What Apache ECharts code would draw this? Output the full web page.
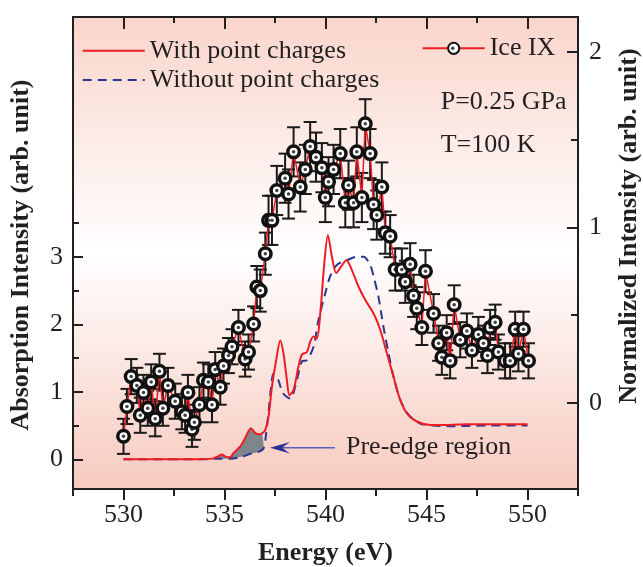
<!DOCTYPE html>
<html><head><meta charset="utf-8">
<script src="https://cdn.jsdelivr.net/npm/echarts@6/dist/echarts.min.js"></script>
<style>html,body{margin:0;padding:0;background:#fff}#c{width:643px;height:567px}</style>
</head><body><div id="c"></div>
<script>
// ---- tick definitions ----
const xTicksMajor = [530, 535, 540, 545, 550];
const xTicksMinor = [527.5, 532.5, 537.5, 542.5, 547.5, 552.5];
const leftTicksMajor = [0, 1, 2, 3];
const leftTicksMinor = [0.5, 1.5, 2.5, 3.5];
const rightTicksMajor = [0, 1, 2];
const rightTicksMinor = [0.5, 1.5];

// ---- calculated spectrum, with point charges (left axis) ----
const redE = [530, 533.5, 534.4, 534.65, 534.87, 535.05, 535.28, 535.44, 535.78, 536.0, 536.11, 536.31, 536.52, 536.7, 536.85, 537.01, 537.18, 537.35, 537.56, 537.76, 537.92, 538.09, 538.22, 538.42, 538.66, 538.83, 539.08, 539.24, 539.41, 539.57, 539.74, 539.94, 540.12, 540.32, 540.53, 540.76, 541.03, 541.31, 541.63, 541.97, 542.38, 542.71, 543.04, 543.37, 543.7, 544.03, 544.52, 545.18, 546, 547, 548, 549, 550];
const redV = [0, 0, 0.01, 0.04, 0.07, 0.04, 0.03, 0.09, 0.19, 0.30, 0.37, 0.46, 0.39, 0.37, 0.385, 0.43, 0.63, 1.08, 1.47, 1.76, 1.57, 1.17, 0.95, 1.03, 1.37, 1.55, 1.59, 1.74, 1.82, 1.79, 2.16, 2.90, 3.32, 3.0, 2.76, 2.85, 2.95, 2.80, 2.56, 2.36, 2.16, 1.92, 1.57, 1.22, 0.88, 0.68, 0.56, 0.51, 0.51, 0.52, 0.52, 0.52, 0.52];

// ---- calculated spectrum, without point charges (left axis) ----
const blueE = [530, 534.0, 534.6, 535.3, 535.9, 536.27, 536.68, 536.93, 537.05, 537.18, 537.3, 537.43, 537.67, 537.89, 538.25, 538.58, 538.83, 539.08, 539.41, 539.65, 539.99, 540.23, 540.56, 541.06, 541.55, 541.88, 542.21, 542.38, 542.62, 542.87, 543.12, 543.37, 543.7, 544.11, 544.69, 545.35, 546, 548, 550];
const blueV = [0, 0, 0.01, 0.01, 0.04, 0.08, 0.11, 0.16, 0.35, 0.70, 1.05, 1.27, 1.17, 0.98, 0.90, 1.17, 1.45, 1.47, 1.67, 2.06, 2.46, 2.71, 2.88, 2.95, 3.00, 3.00, 2.88, 2.71, 2.41, 1.96, 1.57, 1.22, 0.88, 0.66, 0.53, 0.50, 0.49, 0.50, 0.50];

// pre-edge shaded energy window
const preEdge = [534.45, 536.95];

// ---- experimental Ice IX (right axis) ----
const iceE = [530.0, 530.17, 530.38, 530.66, 530.83, 530.99, 531.2, 531.37, 531.57, 531.78, 531.95, 532.2, 532.56, 532.89, 533.05, 533.19, 533.39, 533.51, 533.76, 533.96, 534.2, 534.38, 534.54, 534.79, 534.95, 535.2, 535.37, 535.69, 536.02, 536.19, 536.44, 536.6, 536.77, 537.02, 537.18, 537.35, 537.59, 538.0, 538.17, 538.42, 538.75, 539.0, 539.24, 539.53, 539.82, 539.99, 540.15, 540.4, 540.73, 540.98, 541.14, 541.39, 541.55, 541.8, 541.97, 542.21, 542.38, 542.54, 542.79, 542.96, 543.2, 543.45, 543.78, 543.95, 544.19, 544.36, 544.52, 544.77, 544.95, 545.35, 545.6, 545.76, 546.0, 546.17, 546.37, 546.67, 547.0, 547.25, 547.57, 547.82, 548.02, 548.15, 548.4, 548.56, 548.89, 549.14, 549.39, 549.55, 549.8, 550.05];
const iceV = [-0.19, -0.02, 0.15, 0.10, -0.07, 0.06, -0.03, 0.12, -0.09, 0.18, -0.03, 0.10, 0.01, -0.05, -0.07, 0.06, -0.15, -0.11, -0.01, 0.13, 0.12, -0.01, 0.19, 0.09, 0.21, 0.27, 0.32, 0.43, 0.25, 0.29, 0.45, 0.66, 0.64, 0.85, 1.04, 1.04, 1.21, 1.28, 1.19, 1.43, 1.23, 1.33, 1.46, 1.40, 1.34, 1.17, 1.26, 1.33, 1.42, 1.14, 1.24, 1.14, 1.43, 1.17, 1.59, 1.42, 1.13, 1.07, 1.23, 0.97, 0.95, 0.76, 0.76, 0.69, 0.79, 0.61, 0.54, 0.43, 0.75, 0.51, 0.34, 0.26, 0.40, 0.24, 0.56, 0.36, 0.41, 0.30, 0.39, 0.34, 0.27, 0.43, 0.46, 0.29, 0.24, 0.24, 0.42, 0.28, 0.42, 0.24];
const iceErr = [0.10, 0.10, 0.10, 0.10, 0.10, 0.10, 0.10, 0.10, 0.10, 0.10, 0.10, 0.10, 0.10, 0.10, 0.10, 0.10, 0.10, 0.10, 0.10, 0.10, 0.10, 0.10, 0.10, 0.10, 0.10, 0.10, 0.10, 0.10, 0.10, 0.10, 0.10, 0.12, 0.12, 0.12, 0.14, 0.14, 0.14, 0.14, 0.14, 0.14, 0.14, 0.14, 0.14, 0.14, 0.14, 0.14, 0.14, 0.14, 0.14, 0.14, 0.14, 0.14, 0.14, 0.14, 0.14, 0.14, 0.14, 0.14, 0.14, 0.12, 0.12, 0.12, 0.12, 0.12, 0.12, 0.12, 0.12, 0.10, 0.12, 0.11, 0.10, 0.10, 0.10, 0.10, 0.11, 0.10, 0.10, 0.10, 0.10, 0.10, 0.10, 0.10, 0.10, 0.10, 0.10, 0.10, 0.10, 0.10, 0.10, 0.10];

const FONT = 'Liberation Serif';
const INK = '#231f20';
const txt = {fontFamily: FONT, fontSize: 26, color: INK};

const pair = (xs, ys) => xs.map((x, i) => [x, ys[i]]);

function xAxisDef(pos, ticks, len, inside, labels) {
  return {
    type: 'value', position: pos, min: 527.5, max: 552.5, interval: 2.5,
    axisLine: {show: labels !== null || pos === 'top', onZero: false, lineStyle: {color: INK, width: 2}},
    axisTick: {show: true, inside: inside, length: len, customValues: ticks, lineStyle: {color: INK, width: 2}},
    axisLabel: labels ? Object.assign({show: true, customValues: labels, margin: 13}, txt) : {show: false},
    splitLine: {show: false}
  };
}
function yAxisDef(pos, min, max, ticks, len, labels, margin, line) {
  return {
    type: 'value', position: pos, min: min, max: max,
    axisLine: {show: line, onZero: false, lineStyle: {color: INK, width: 2}},
    axisTick: {show: true, inside: true, length: len, customValues: ticks, lineStyle: {color: INK, width: 2}},
    axisLabel: labels ? Object.assign({show: true, customValues: labels, margin: margin}, txt) : {show: false},
    splitLine: {show: false}
  };
}

const chart = echarts.init(document.getElementById('c'), null, {renderer: 'canvas'});
chart.setOption({
  animation: false,
  grid: {
    left: 73, right: 65, top: 17, bottom: 78, show: true, borderWidth: 0,
    backgroundColor: {type: 'linear', x: 0, y: 0, x2: 0, y2: 1, colorStops: [
      {offset: 0, color: '#f9d5cb'}, {offset: 0.5, color: '#ffffff'}, {offset: 1, color: '#f7cabe'}]}
  },
  xAxis: [
    xAxisDef('bottom', xTicksMajor, 11, false, xTicksMajor),
    xAxisDef('bottom', xTicksMinor, 7, false, null),
    xAxisDef('top', xTicksMajor, 12, true, null),
    xAxisDef('top', xTicksMinor, 6, true, null)
  ],
  yAxis: [
    yAxisDef('left', -0.44, 6.553, leftTicksMajor, 10, leftTicksMajor, 10, true),
    yAxisDef('left', -0.44, 6.553, leftTicksMinor, 6, null, 0, false),
    yAxisDef('right', -0.49, 2.198, rightTicksMajor, 11, rightTicksMajor, 11, true),
    yAxisDef('right', -0.49, 2.198, rightTicksMinor, 7, null, 0, false)
  ],
  legend: [
    {
      orient: 'vertical', left: 81.7, top: 37.7, padding: 0, itemGap: 3.3,
      itemWidth: 62, itemHeight: 14, selectedMode: false,
      textStyle: Object.assign({lineHeight: 26}, txt),
      data: [
        {name: 'With point charges', itemStyle: {color: 'rgba(0,0,0,0)', borderWidth: 0, opacity: 0}},
        {name: 'Without point charges', itemStyle: {color: 'rgba(0,0,0,0)', borderWidth: 0, opacity: 0}}
      ]
    },
    {
      orient: 'vertical', left: 421.7, top: 35.3, padding: 0,
      itemWidth: 62, itemHeight: 14, selectedMode: false,
      textStyle: Object.assign({lineHeight: 26}, txt),
      data: ['Ice IX']
    },
    {
      orient: 'vertical', left: 450.95, top: 35.3, padding: 0,
      itemWidth: 3.5, itemHeight: 3.5, selectedMode: false,
      textStyle: Object.assign({lineHeight: 26}, txt),
      formatter: () => ' ',
      data: ['iceDot']
    }
  ],
  series: [
    {
      name: 'preEdgeFill', type: 'custom', xAxisIndex: 0, yAxisIndex: 0, z: 1,
      data: [[preEdge[0], 0]], silent: true,
      renderItem: (params, api) => {
        const top = pair(redE, redV).filter(p => p[0] >= preEdge[0] && p[0] <= preEdge[1]);
        const bot = pair(blueE, blueV).filter(p => p[0] >= preEdge[0] && p[0] <= preEdge[1]).reverse();
        const pts = top.concat(bot).map(p => api.coord(p));
        return {type: 'polygon', shape: {points: pts, smooth: 0.2}, style: {fill: '#7e868b'}};
      }
    },
    {
      name: 'Without point charges', type: 'line', xAxisIndex: 0, yAxisIndex: 0, z: 2,
      data: pair(blueE, blueV), symbol: 'none', smooth: 0.3,
      lineStyle: {color: '#2a3592', width: 2, type: [9, 6]}, itemStyle: {color: '#2a3592'}
    },
    {
      name: 'With point charges', type: 'line', xAxisIndex: 0, yAxisIndex: 0, z: 2,
      data: pair(redE, redV), symbol: 'none', smooth: 0.3,
      lineStyle: {color: '#ee1d25', width: 2}, itemStyle: {color: '#ee1d25'}
    },
    {
      name: 'iceErr', type: 'custom', xAxisIndex: 0, yAxisIndex: 2, z: 3, silent: true,
      data: iceE.map((e, i) => [e, iceV[i], iceErr[i]]),
      encode: {x: 0, y: 1},
      renderItem: (params, api) => {
        const e = api.value(0), v = api.value(1), d = api.value(2);
        const hi = api.coord([e, v + d]), lo = api.coord([e, v - d]);
        const w = 6.5, st = {stroke: '#1a1a1a', lineWidth: 2};
        return {type: 'group', children: [
          {type: 'line', shape: {x1: hi[0], y1: hi[1], x2: lo[0], y2: lo[1]}, style: st},
          {type: 'line', shape: {x1: hi[0] - w, y1: hi[1], x2: hi[0] + w, y2: hi[1]}, style: st},
          {type: 'line', shape: {x1: lo[0] - w, y1: lo[1], x2: lo[0] + w, y2: lo[1]}, style: st}
        ]};
      }
    },
    {
      name: 'Ice IX', type: 'line', xAxisIndex: 0, yAxisIndex: 2, z: 4,
      data: pair(iceE, iceV), showAllSymbol: true,
      symbol: 'circle', symbolSize: 11.5,
      lineStyle: {color: '#ee1d25', width: 1.5},
      itemStyle: {color: '#ffffff', borderColor: '#111111', borderWidth: 3.5}
    },
    {
      name: 'iceDot', type: 'scatter', xAxisIndex: 0, yAxisIndex: 2, z: 5, silent: true,
      data: pair(iceE, iceV), symbol: 'circle', symbolSize: 3.5,
      itemStyle: {color: '#111111'}
    }
  ],
  graphic: [
    {type: 'text', x: 21, y: 255, rotation: Math.PI / 2,
     style: {text: 'Absorption Intensity (arb. unit)', font: 'bold 26px "Liberation Serif"', fill: INK, align: 'center', verticalAlign: 'middle', textAlign: 'center', textVerticalAlign: 'middle'}},
    {type: 'text', x: 629, y: 226, rotation: Math.PI / 2,
     style: {text: 'Normalized Intensity (arb. unit)', font: 'bold 26px "Liberation Serif"', fill: INK, align: 'center', verticalAlign: 'middle', textAlign: 'center', textVerticalAlign: 'middle'}},
    {type: 'text', x: 325.5, y: 553,
     style: {text: 'Energy (eV)', font: 'bold 26px "Liberation Serif"', fill: INK, align: 'center', verticalAlign: 'middle', textAlign: 'center', textVerticalAlign: 'middle'}},
    {type: 'text', x: 440.7, y: 101.7,
     style: {text: 'P=0.25 GPa', font: '26px "Liberation Serif"', fill: INK, align: 'left', verticalAlign: 'middle', textAlign: 'left', textVerticalAlign: 'middle'}},
    {type: 'text', x: 440.7, y: 145,
     style: {text: 'T=100 K', font: '26px "Liberation Serif"', fill: INK, align: 'left', verticalAlign: 'middle', textAlign: 'left', textVerticalAlign: 'middle'}},
    {type: 'text', x: 346, y: 446.7,
     style: {text: 'Pre-edge region', font: '26px "Liberation Serif"', fill: INK, align: 'left', verticalAlign: 'middle', textAlign: 'left', textVerticalAlign: 'middle'}},
    {type: 'line', shape: {x1: 281, y1: 447.7, x2: 335, y2: 447.7}, style: {stroke: '#5a5fbf', lineWidth: 1.6}},
    {type: 'polygon', shape: {points: [[270, 447.7], [290, 442], [282, 447.7], [290, 453.4]]}, style: {fill: '#2e3192'}}
  ]
});
</script>
</body></html>
